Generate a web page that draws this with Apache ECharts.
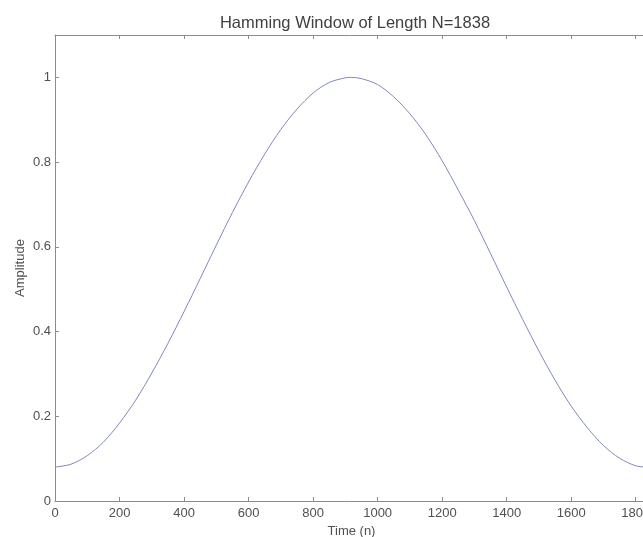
<!DOCTYPE html>
<html>
<head>
<meta charset="utf-8">
<script src="https://cdn.jsdelivr.net/npm/echarts@6/dist/echarts.min.js"></script>
<style>
html,body{margin:0;padding:0;background:#fff;}
#c{width:643px;height:537px;}
</style>
</head>
<body>
<div id="c"></div>
<script>
// Sample index n (time)
var timeN = [0, 50, 100, 150, 200, 250, 300, 350, 400, 450, 500, 550, 600, 650, 700, 750, 800, 850, 900, 918, 950,
             1000, 1050, 1100, 1150, 1200, 1250, 1300, 1350, 1400, 1450, 1500, 1550, 1600, 1650, 1700, 1750, 1800, 1837];
// Amplitude
var amplitude = [0.080, 0.087, 0.107, 0.139, 0.184, 0.238, 0.302, 0.372, 0.447, 0.525, 0.604, 0.681, 0.753, 0.819, 0.877, 0.925, 0.963, 0.988, 0.999, 1.000, 0.997,
                 0.983, 0.954, 0.914, 0.864, 0.803, 0.734, 0.662, 0.584, 0.505, 0.428, 0.354, 0.285, 0.224, 0.173, 0.131, 0.101, 0.083, 0.080];

var titleText = 'Hamming Window of Length N=1838';
var xName = 'Time (n)';
var yName = 'Amplitude';

var pts = timeN.map(function (t, i) { return [t, amplitude[i]]; });

var axisGray = '#8c8c8c';
var fontFam = 'Liberation Sans, Arial, sans-serif';
var labelStyle = { color: '#505050', fontSize: 13, fontFamily: fontFam };
var plain = function (v) { return String(Math.round(v * 100) / 100); };

var chart = echarts.init(document.getElementById('c'), null, { renderer: 'canvas' });
chart.setOption({
  backgroundColor: '#fff',
  animation: false,
  title: {
    text: titleText,
    left: 350, textAlign: 'center', top: 10,
    textStyle: { fontSize: 16.5, fontWeight: 'normal', color: '#404040', fontFamily: fontFam }
  },
  grid: { left: 55, top: 35, right: -5, bottom: 36, containLabel: false, outerBoundsMode: 'none' },
  xAxis: [{
    type: 'value', min: 0, max: 1838, interval: 200,
    position: 'bottom',
    name: xName, nameLocation: 'middle', nameGap: 24, nameMoveOverlap: false,
    nameTextStyle: labelStyle,
    axisLine: { show: true, onZero: false, lineStyle: { color: axisGray, width: 1 } },
    axisTick: { show: true, inside: true, length: 4, lineStyle: { color: axisGray } },
    axisLabel: { show: true, margin: 6, showMaxLabel: false, formatter: plain, color: '#505050', fontSize: 13, fontFamily: fontFam },
    splitLine: { show: false }
  }, {
    type: 'value', min: 0, max: 1838, interval: 200,
    position: 'top',
    axisLine: { show: true, onZero: false, lineStyle: { color: axisGray, width: 1 } },
    axisTick: { show: true, inside: true, length: 4, lineStyle: { color: axisGray } },
    axisLabel: { show: false },
    splitLine: { show: false }
  }],
  yAxis: [{
    type: 'value', min: 0, max: 1.1, interval: 0.2,
    position: 'left',
    name: yName, nameLocation: 'middle', nameGap: 28, nameRotate: 90, nameMoveOverlap: false,
    nameTextStyle: labelStyle,
    axisLine: { show: true, onZero: false, lineStyle: { color: axisGray, width: 1 } },
    axisTick: { show: true, inside: true, length: 4, lineStyle: { color: axisGray } },
    axisLabel: { show: true, margin: 4, showMaxLabel: false, formatter: plain, color: '#505050', fontSize: 13, fontFamily: fontFam },
    splitLine: { show: false }
  }, {
    type: 'value', min: 0, max: 1.1, interval: 0.2,
    position: 'right',
    axisLine: { show: true, onZero: false, lineStyle: { color: axisGray, width: 1 } },
    axisTick: { show: true, inside: true, length: 4, lineStyle: { color: axisGray } },
    axisLabel: { show: false },
    splitLine: { show: false }
  }],
  series: [{
    type: 'line',
    xAxisIndex: 0, yAxisIndex: 0,
    data: pts,
    smooth: 0.3,
    showSymbol: false,
    lineStyle: { color: '#8088bb', width: 1 }
  }]
});
</script>
</body>
</html>
